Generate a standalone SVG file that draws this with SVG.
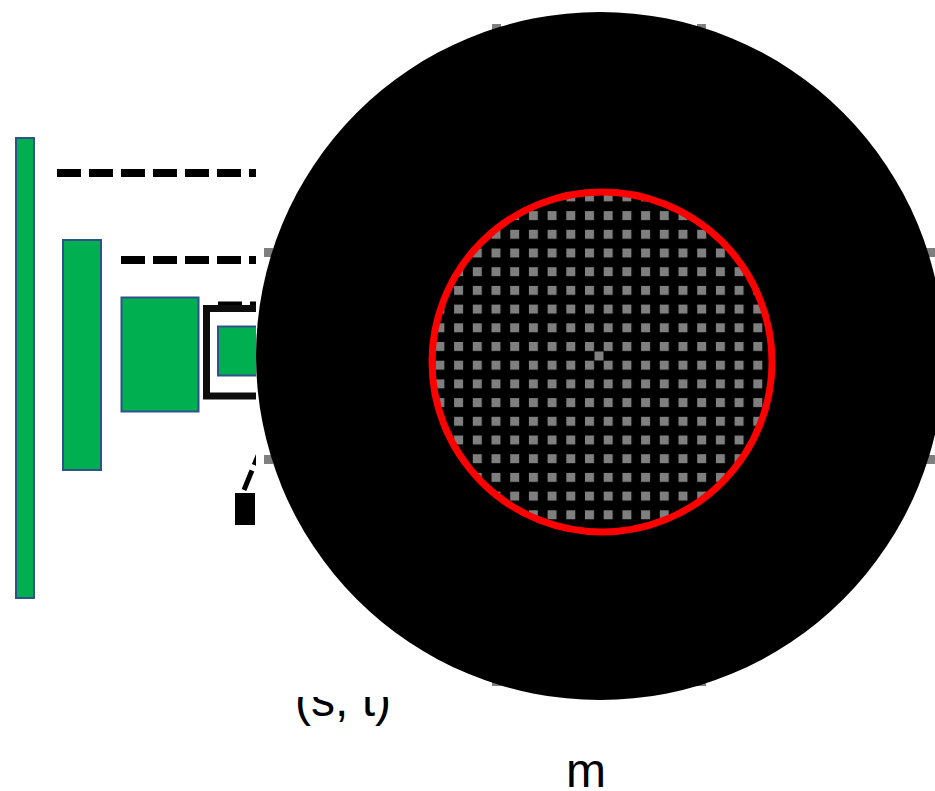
<svg xmlns="http://www.w3.org/2000/svg" width="935" height="791" viewBox="0 0 935 791">
<style>
.bar{fill:#00B050;stroke:#2F528F;stroke-width:2}
.dash{stroke:#000;stroke-width:8;stroke-dasharray:24 8;fill:none}
.sq{fill:#7F7F7F}
.lbl{font-family:"Liberation Sans",Arial,sans-serif;font-size:48px;fill:#000}
</style>
<defs>
<clipPath id="leftclip"><rect x="0" y="0" width="256" height="791"/></clipPath>
<clipPath id="innerclip"><circle cx="602" cy="362" r="168"/></clipPath>
<clipPath id="textclip"><rect x="0" y="697" width="935" height="94"/></clipPath>
<pattern id="grid" patternUnits="userSpaceOnUse" x="585" y="342" width="18.7" height="18.7">
<rect x="0" y="0" width="18.7" height="18.7" fill="#000"/>
<rect x="0" y="0" width="9" height="9" fill="#7F7F7F"/>
</pattern>
</defs>
<rect x="0" y="0" width="935" height="791" fill="#fff"/>
<g id="levels" clip-path="url(#leftclip)">
<g id="bar1"><rect class="bar" x="16" y="138" width="18" height="460"/></g>
<g id="bar2"><rect class="bar" x="63" y="240" width="38" height="230"/></g>
<g id="bar3"><rect class="bar" x="121.5" y="297.5" width="77" height="114"/></g>
<g id="connectors">
<line class="dash" x1="57" y1="173" x2="256" y2="173"/>
<line class="dash" x1="121" y1="260" x2="256" y2="260"/>
<line class="dash" x1="218" y1="305.5" x2="256" y2="305.5" stroke-width="7"/>
<line x1="244" y1="490" x2="264" y2="441" stroke="#000" stroke-width="5" stroke-dasharray="21 6"/>
</g>
<g id="patch"><rect class="bar" x="218" y="326.5" width="60" height="49"/>
<rect x="206.5" y="308.5" width="80" height="87.5" fill="none" stroke="#0D0D0D" stroke-width="7"/></g>
<g id="pixel"><rect x="235" y="493" width="20" height="32" fill="#000"/></g>
</g>
<g id="st-label"><text class="lbl" x="295" y="716" clip-path="url(#textclip)">(s, t)</text></g>
<g id="corner-squares">
<rect class="sq" x="492" y="24" width="9" height="9"/>
<rect class="sq" x="697" y="24" width="9" height="9"/>
<rect class="sq" x="492" y="677" width="9" height="9"/>
<rect class="sq" x="697" y="677" width="9" height="9"/>
<rect class="sq" x="264" y="248" width="9" height="9"/>
<rect class="sq" x="264" y="455" width="9" height="9"/>
<rect class="sq" x="926" y="248" width="9" height="9"/>
<rect class="sq" x="926" y="455" width="9" height="9"/>
</g>
<g id="outer-disc"><circle cx="600" cy="356" r="344" fill="#000"/></g>
<g id="inner-grid">
<circle cx="602" cy="362" r="168" fill="url(#grid)"/>
<rect class="sq" x="594.5" y="351.5" width="9" height="9"/>
</g>
<g id="red-ring"><circle cx="602" cy="362" r="170" fill="none" stroke="#FF0000" stroke-width="7"/></g>
<g id="m-label"><text class="lbl" x="586" y="787" text-anchor="middle">m</text></g>
</svg>
